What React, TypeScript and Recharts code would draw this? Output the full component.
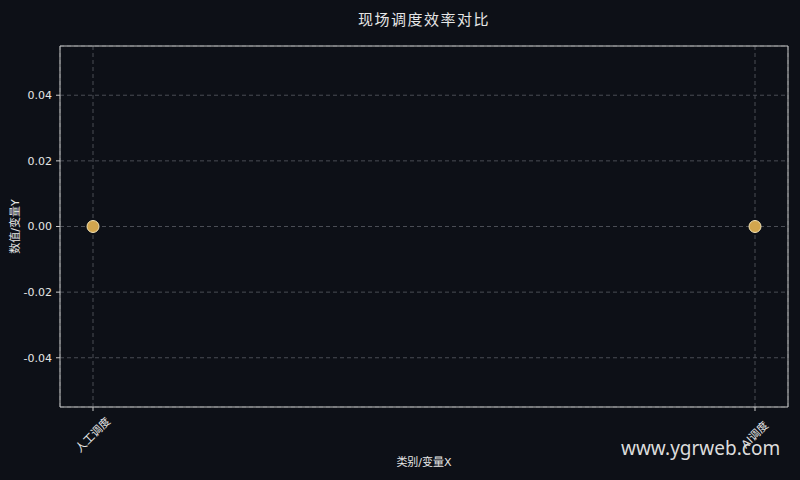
import React from 'react';
import { ComposedChart, Scatter, XAxis, YAxis, CartesianGrid } from 'recharts';

const categories = ['人工调度', 'AI调度'];
const values = [0, 0];
const yTicks = [-0.04, -0.02, 0, 0.02, 0.04];
const title = '现场调度效率对比';
const xLabel = '类别/变量X';
const yLabel = '数值/变量Y';
const watermark = 'www.ygrweb.com';

const data = categories.map((name, i) => ({ name, value: values[i] }));

const BG = '#0d1017';
const AXIS = '#c8c8c8';
const TEXT = '#e6e6e6';
const FONT = '"DejaVu Sans", "Noto Sans CJK SC", sans-serif';

const XTick = (props: any) => {
  const { x, y, payload } = props;
  const cy = y + 22;
  return (
    <text
      x={x}
      y={cy}
      transform={`rotate(-45, ${x}, ${cy})`}
      textAnchor="middle"
      dominantBaseline="central"
      fill={TEXT}
      fontSize={11}
      fontFamily={FONT}
    >
      {payload.value}
    </text>
  );
};

const Dot = (props: any) => {
  const { cx, cy } = props;
  return <circle cx={cx} cy={cy} r={6} fill="#d2a64e" stroke="#f3e3b5" strokeWidth={1} />;
};

export default function App() {
  return (
    <div style={{ position: 'fixed', left: 0, top: 0, width: 800, height: 480, background: BG, fontFamily: FONT }}>
      <ComposedChart width={800} height={480} data={data} margin={{ top: 45, right: 11, bottom: 0, left: 0 }}>
        <CartesianGrid stroke="#4a4d55" strokeDasharray="4 3" vertical horizontal />
        <XAxis
          dataKey="name"
          type="category"
          scale="point"
          padding={{ left: 33, right: 33 }}
          height={73}
          stroke={AXIS}
          tickLine={{ stroke: AXIS }}
          tickSize={4}
          tick={<XTick />}
          interval={0}
          label={({ viewBox }: any) => (
            <text
              x={viewBox.x + viewBox.width / 2}
              y={viewBox.y + 59}
              textAnchor="middle"
              fill={TEXT}
              fontSize={11}
              fontFamily={FONT}
            >
              {xLabel}
            </text>
          )}
        />
        <XAxis xAxisId="top" orientation="top" dataKey="name" height={1} stroke={AXIS} tick={false} tickLine={false} />
        <YAxis
          type="number"
          domain={[-0.055, 0.055]}
          ticks={yTicks}
          width={60}
          stroke={AXIS}
          tickSize={4}
          tickMargin={4}
          tick={{ fill: TEXT, fontSize: 11, fontFamily: FONT }}
          tickFormatter={(v: number) => v.toFixed(2)}
          label={({ viewBox }: any) => {
            const x = 19;
            const y = viewBox.y + viewBox.height / 2;
            return (
              <text
                x={x}
                y={y}
                transform={`rotate(-90, ${x}, ${y})`}
                textAnchor="middle"
                fill={TEXT}
                fontSize={11}
                fontFamily={FONT}
              >
                {yLabel}
              </text>
            );
          }}
        />
        <YAxis yAxisId="right" orientation="right" width={1} domain={[-0.055, 0.055]} stroke={AXIS} tick={false} tickLine={false} />
        <Scatter dataKey="value" isAnimationActive={false} shape={<Dot />} />
      </ComposedChart>
      <div
        style={{
          position: 'absolute',
          left: 60,
          width: 728,
          top: 8,
          textAlign: 'center',
          color: TEXT,
          fontSize: 15,
          fontFamily: FONT,
          letterSpacing: 1.5,
        }}
      >
        {title}
      </div>
      <div
        style={{
          position: 'absolute',
          left: 621,
          top: 435,
          color: '#dcdcdc',
          fontSize: 19,
          fontFamily: '"Noto Sans", sans-serif',
        }}
      >
        {watermark}
      </div>
    </div>
  );
}
